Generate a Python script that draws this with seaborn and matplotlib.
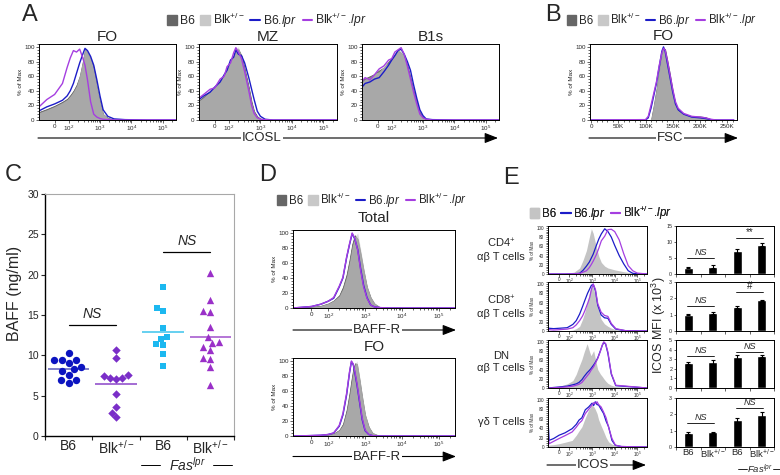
import numpy as np
import pandas as pd
import matplotlib
matplotlib.use('Agg')
import matplotlib.pyplot as plt
import seaborn as sns
from matplotlib.patches import Patch
from matplotlib.lines import Line2D
from matplotlib.ticker import AutoMinorLocator, FixedLocator

sns.set_style('ticks')
plt.rcParams['font.family'] = ['Liberation Sans', 'DejaVu Sans']
plt.rcParams['mathtext.fontset'] = 'custom'
plt.rcParams['mathtext.rm'] = 'Liberation Sans'
plt.rcParams['mathtext.it'] = 'Liberation Sans:italic'
plt.rcParams['mathtext.bf'] = 'Liberation Sans:bold'

# ---------------- data ----------------
# histogram x positions are in decades (biexponential display, "0" at 1.55)
u_a_fo = [1.05, 1.3, 1.55, 1.8, 1.95, 2.05, 2.15, 2.25, 2.35, 2.45, 2.52, 2.6, 2.7, 2.8, 2.9, 3.0, 3.1, 3.25, 3.45, 3.8, 4.5, 5.43]
fo_b6 = [11, 15, 19.5, 25, 29, 34, 40, 48, 60, 80, 97, 92, 84, 72, 45, 25, 8, 3, 0.5, 0, 0, 0]
fo_blk = [10, 14, 18.5, 24, 28, 33, 39, 47, 62, 82, 100, 94, 85, 70, 47, 26, 9, 3, 0.5, 0, 0, 0]
fo_blue = [12.5, 18, 22, 27, 33, 40, 50, 64, 78, 90, 98, 95, 87, 75, 55, 33, 14, 5, 1.5, 0.5, 0, 0]
fo_purple = [18, 28, 35, 50, 72, 85, 95, 93, 97, 85, 75, 55, 25, 8, 4, 2, 1, 0.5, 0, 0, 0, 0]

u_a_mz = [1.05, 1.2, 1.4, 1.55, 1.72, 1.85, 1.94, 2.05, 2.15, 2.22, 2.3, 2.4, 2.5, 2.63, 2.72, 2.8, 2.9, 3.0, 3.15, 3.4, 4.0, 5.43]
mz_b6 = [27, 32, 40, 46, 54, 62, 70, 80, 88, 95, 97, 88, 70, 45, 25, 12, 5, 2, 0.5, 0, 0, 0]
mz_blk = [26, 31, 39, 47, 55, 63, 72, 82, 90, 98, 100, 86, 68, 43, 23, 11, 4, 1.5, 0.5, 0, 0, 0]
mz_blue = [28, 33, 38, 45, 52, 62, 68, 82, 86, 96, 90, 88, 78, 58, 42, 28, 12, 5, 1, 0, 0, 0]
mz_purple = [30, 35, 42, 44, 56, 60, 73, 78, 92, 99, 93, 84, 66, 40, 20, 9, 3, 1, 0.5, 0, 0, 0]

u_a_b1 = [1.05, 1.15, 1.3, 1.45, 1.6, 1.75, 1.9, 2.0, 2.1, 2.2, 2.3, 2.4, 2.5, 2.6, 2.7, 2.8, 2.9, 3.0, 3.1, 3.3, 4.0, 5.43]
b1_b6 = [55, 57, 60, 63, 68, 72, 80, 85, 90, 95, 92, 88, 75, 58, 40, 25, 10, 4, 1, 0, 0, 0]
b1_blk = [52, 56, 58, 64, 66, 74, 78, 86, 92, 97, 100, 86, 72, 55, 38, 22, 9, 3, 1, 0, 0, 0]
b1_blue = [45, 50, 52, 56, 58, 66, 75, 82, 88, 95, 97, 90, 80, 68, 48, 30, 14, 6, 1.5, 0.5, 0, 0]
b1_purple = [53, 58, 55, 62, 70, 74, 82, 84, 93, 96, 99, 90, 74, 56, 38, 22, 8, 3, 1, 0, 0, 0]

fsc_k = [0, 100, 105, 110, 115, 120, 125, 130, 133, 136, 140, 145, 150, 155, 160, 170, 185, 200, 210, 220, 230, 262]
fsc_b6 = [0, 0, 0, 0, 20, 42, 68, 90, 98, 97, 82, 62, 40, 22, 14, 8, 5, 5, 4, 1, 0, 0]
fsc_blk = [0, 0, 0, 2, 22, 44, 70, 92, 100, 95, 80, 60, 38, 21, 13, 8, 5, 4, 3, 1, 0, 0]
fsc_blue = [0, 0, 3, 16, 33, 50, 72, 94, 100, 94, 78, 58, 38, 22, 14, 8, 4, 3, 2, 0.5, 0, 0]
fsc_purple = [0, 0.5, 5, 20, 36, 52, 74, 92, 98, 96, 82, 62, 42, 25, 16, 9, 5, 4, 3, 1, 0, 0]

u_d_tot = [1.05, 1.3, 1.55, 1.8, 2.0, 2.15, 2.3, 2.4, 2.5, 2.58, 2.65, 2.72, 2.8, 2.88, 2.96, 3.05, 3.15, 3.25, 3.4, 3.7, 4.5, 5.43]
tot_b6 = [0, 0.5, 1.5, 3, 6, 10, 17, 28, 45, 65, 85, 97, 92, 72, 50, 28, 14, 6, 1, 0, 0, 0]
tot_blk = [0, 0.5, 1.5, 3, 6, 10, 16, 26, 42, 62, 82, 95, 100, 78, 54, 30, 15, 7, 1.5, 0, 0, 0]
tot_blue = [0, 1, 2, 5, 9, 13, 28, 40, 67, 85, 99, 92, 78, 52, 30, 14, 4, 1.5, 0.5, 0, 0, 0]
tot_purple = [0, 1, 2, 5, 9, 14, 29, 41, 68, 86, 100, 93, 77, 50, 28, 13, 4, 1.5, 0.5, 0, 0, 0]

u_d_fo = [1.05, 1.5, 1.8, 2.0, 2.15, 2.3, 2.4, 2.5, 2.58, 2.63, 2.68, 2.73, 2.78, 2.85, 2.92, 3.0, 3.1, 3.2, 3.35, 3.7, 4.5, 5.43]
dfo_b6 = [0, 0, 0.5, 1.5, 3.5, 8, 16, 35, 58, 75, 90, 97, 96, 75, 52, 28, 12, 4, 1, 0, 0, 0]
dfo_blk = [0, 0, 0.5, 1.5, 3.5, 8, 15, 33, 55, 72, 88, 96, 100, 80, 56, 31, 13, 5, 1, 0, 0, 0]
dfo_blue = [0, 0.5, 1, 2, 4, 13, 28, 55, 85, 99, 95, 82, 68, 45, 22, 7, 2, 0.5, 0, 0, 0, 0]
dfo_purple = [0, 0.5, 1, 2, 4, 14, 30, 57, 86, 100, 96, 84, 70, 47, 24, 8, 2, 0.5, 0, 0, 0, 0]

u_e1 = [1.05, 1.8, 2.2, 2.45, 2.6, 2.75, 2.88, 2.97, 3.05, 3.19, 3.3, 3.41, 3.56, 3.7, 3.85, 4.0, 4.2, 4.4, 4.6, 4.8, 5.0, 5.43]
e1_b6 = [0, 1, 4, 13, 30, 51, 80, 98, 88, 58, 38, 25, 17, 13, 11, 9, 7, 5, 3.5, 2, 1, 0]
e1_blue = [0, 0, 0.5, 1.5, 8, 17, 26, 35, 43, 62, 76, 87, 98, 92, 80, 62, 40, 22, 7, 1.5, 0.5, 0]
e1_purple = [0, 0, 0.5, 1, 4, 7, 14, 21, 28, 42, 56, 72, 82, 96, 97, 92, 74, 44, 18, 7, 2, 0]

u_e2 = [1.05, 1.3, 1.6, 1.9, 2.15, 2.3, 2.45, 2.58, 2.68, 2.8, 2.9, 2.97, 3.05, 3.15, 3.25, 3.4, 3.55, 3.7, 3.85, 4.05, 4.5, 5.43]
e2_b6 = [0, 0, 0, 0.5, 2, 5, 10, 25, 40, 62, 85, 95, 92, 75, 50, 25, 15, 10, 6, 3, 1, 0]
e2_blue = [6, 5, 6, 7, 14, 22, 36, 52, 65, 80, 90, 97, 99, 85, 55, 34, 28, 27, 14, 4, 0.5, 0]
e2_purple = [3, 2, 3, 4, 7, 13, 22, 32, 43, 58, 72, 88, 100, 88, 58, 40, 33, 31, 16, 5, 0.5, 0]

u_e3 = [1.05, 1.5, 1.9, 2.15, 2.3, 2.42, 2.55, 2.65, 2.78, 2.88, 2.95, 3.07, 3.15, 3.25, 3.37, 3.45, 3.52, 3.6, 3.7, 3.85, 4.05, 5.43]
e3_b6 = [0, 3, 9, 16, 30, 46, 62, 78, 96, 80, 70, 81, 62, 40, 30, 25, 20, 15, 10, 6, 3, 0]
e3_blue = [0, 2, 4, 7, 9, 12, 18, 25, 33, 38, 42, 50, 56, 65, 81, 92, 99, 95, 75, 30, 5, 0]
e3_purple = [0, 1, 2.5, 4, 6, 8, 12, 18, 26, 32, 38, 46, 54, 64, 80, 93, 100, 96, 78, 32, 6, 0]

u_e4 = [1.05, 1.1, 1.3, 1.54, 1.8, 2.12, 2.3, 2.42, 2.55, 2.7, 2.85, 3.0, 3.07, 3.14, 3.22, 3.29, 3.4, 3.51, 3.62, 3.73, 3.88, 4.03, 4.3, 5.43]
e4_b6 = [3, 4, 5, 7, 10, 14, 25, 34, 43, 62, 79, 89, 86, 80, 71, 58, 45, 33, 20, 11, 6, 4, 2, 0]
e4_blue = [60, 14, 18, 25, 30, 39, 48, 57, 62, 79, 85, 93, 88, 96, 90, 89, 80, 71, 55, 43, 14, 3.5, 1, 0]
e4_purple = [30, 7, 12, 18, 24, 32, 42, 50, 56, 71, 80, 89, 94, 92, 96, 90, 85, 74, 62, 42, 18, 4, 1, 0]

# panel C: serum BAFF (ng/ml)
baff_b6 = [10.25, 9.4, 9.4, 9.4, 9.0, 8.5, 8.0, 8.3, 7.6, 6.9, 6.6, 7.0]
baff_blk = [10.7, 9.7, 7.6, 7.25, 7.1, 7.15, 7.5, 5.2, 3.6, 2.9, 2.3]
baff_b6_lpr = [18.46, 15.9, 15.5, 13.4, 12.3, 12.04, 11.4, 11.3, 10.2, 8.66]
baff_blk_lpr = [20.25, 16.8, 15.5, 15.4, 13.54, 12.33, 11.5, 11.6, 11.0, 10.6, 9.6, 9.7, 8.5, 6.3]
c_keys = ['B6', 'Blk', 'B6 lpr', 'Blk lpr']
c_ticklabels = ['B6', 'Blk$^{+/-}$', 'B6', 'Blk$^{+/-}$']
c_sig = [(0, 1, 13.8, 'NS'), (2, 3, 22.8, 'NS')]

# panel E: ICOS MFI (x 10^3)
mfi_vals = [[2.0, 2.3, 7.2, 9.2],
            [1.0, 1.1, 1.47, 1.88],
            [2.6, 2.7, 3.25, 3.3],
            [0.85, 0.9, 1.65, 1.95]]
mfi_errs = [[0.25, 0.4, 0.5, 0.5],
            [0.03, 0.05, 0.08, 0.04],
            [0.15, 0.2, 0.2, 0.1],
            [0.05, 0.04, 0.15, 0.18]]
mfi_ylim = [15, 3, 5, 3]
mfi_sig = [[(0, 1, 5.0, 'NS'), (2, 3, 11.3, '**')],
           [(0, 1, 1.55, 'NS'), (2, 3, 2.37, '#')],
           [(0, 1, 3.35, 'NS'), (2, 3, 3.8, 'NS')],
           [(0, 1, 1.45, 'NS'), (2, 3, 2.37, 'NS')]]
e_rows = ['CD4$^{+}$\nαβ T cells', 'CD8$^{+}$\nαβ T cells', 'DN\nαβ T cells', 'γδ T cells']

# ---------------- style ----------------
B6_DARK = '#7a7a7a'
BLK_LIGHT = '#c8c8c8'
E_GRAY = '#c4c4c4'
BLUE = '#1c1cc8'
PURPLE = '#a53ee0'

W, H = 780, 475
fig = plt.figure(figsize=(W / 100, H / 100), dpi=100)


def box(x0, y0, x1, y1):
    return fig.add_axes([x0 / W, 1 - y1 / H, (x1 - x0) / W, (y1 - y0) / H])


decade_pos = [1.55, 2, 3, 4, 5]
decade_lbl = ['0', '10$^2$', '10$^3$', '10$^4$', '10$^5$']
minor_pos = [d + np.log10(k) for d in range(2, 6) for k in range(2, 10) if d + np.log10(k) < 5.43]


def style_flow(ax, fs=4.5, log=True):
    ax.set_ylim(0, 104)
    ax.set_yticks([0, 20, 40, 60, 80, 100])
    ax.yaxis.set_minor_locator(AutoMinorLocator(5))
    if log:
        ax.set_xlim(1.05, 5.43)
        ax.set_xticks(decade_pos)
        ax.set_xticklabels(decade_lbl)
        ax.xaxis.set_minor_locator(FixedLocator(minor_pos))
    for s in ax.spines.values():
        s.set_linewidth(0.7)
        s.set_color('black')
    ax.tick_params(which='both', direction='out', width=0.5, labelsize=fs, pad=1)
    ax.tick_params(axis='x', pad=0.5)
    ax.tick_params(which='major', length=2.2)
    ax.tick_params(which='minor', length=1.2)
    ax.set_ylabel('% of Max', fontsize=fs, labelpad=1)
    ax.set_xlabel('')


def draw_hist(ax, u, b6, blk, blue, purple):
    ax.fill_between(u, b6, color=B6_DARK, edgecolor='#555555', lw=0.5)
    if blk is not None:
        ax.fill_between(u, blk, color=BLK_LIGHT, alpha=0.6, lw=0)
    sns.lineplot(x=u, y=blue, ax=ax, color=BLUE, lw=1.0, legend=False)
    sns.lineplot(x=u, y=purple, ax=ax, color=PURPLE, lw=1.0, legend=False)


# Panel A
for (x0, x1), u, b6, blk, bl, pu in [((39, 176), u_a_fo, fo_b6, fo_blk, fo_blue, fo_purple),
                                      ((199, 337), u_a_mz, mz_b6, mz_blk, mz_blue, mz_purple),
                                      ((362, 499), u_a_b1, b1_b6, b1_blk, b1_blue, b1_purple)]:
    ax = box(x0, 44, x1, 120)
    draw_hist(ax, u, b6, blk, bl, pu)
    style_flow(ax)

# Panel B
ax = box(590, 44, 737, 120)
draw_hist(ax, fsc_k, fsc_b6, fsc_blk, fsc_blue, fsc_purple)
style_flow(ax, log=False)
ax.set_xlim(-2, 268)
ax.set_xticks([0, 50, 100, 150, 200, 250])
ax.set_xticklabels(['0', '50K', '100K', '150K', '200K', '250K'])
ax.xaxis.set_minor_locator(AutoMinorLocator(5))

# Panel D
for (y0, y1), u, b6, blk, bl, pu in [((230, 308), u_d_tot, tot_b6, tot_blk, tot_blue, tot_purple),
                                      ((358, 436), u_d_fo, dfo_b6, dfo_blk, dfo_blue, dfo_purple)]:
    ax = box(293, y0, 455, y1)
    draw_hist(ax, u, b6, blk, bl, pu)
    style_flow(ax)

# Panel C
c_df = pd.DataFrame({
    'grp': (['B6'] * len(baff_b6) + ['Blk'] * len(baff_blk)
            + ['B6 lpr'] * len(baff_b6_lpr) + ['Blk lpr'] * len(baff_blk_lpr)),
    'baff': baff_b6 + baff_blk + baff_b6_lpr + baff_blk_lpr,
})
c_markers = ['o', 'D', 's', '^']
c_colors = ['#0c14c0', '#7a2ec8', '#1cb8f0', '#9a30c8']
c_sizes = [5.3, 4.3, 4.6, 5.3]
c_mean_colors = ['#5c5cbc', '#8a44c8', '#3cc4ec', '#a050cc']
axc = box(45, 194, 234, 436)
for i, key in enumerate(c_keys):
    sub = c_df[c_df['grp'] == key]
    sns.swarmplot(data=sub, x='grp', y='baff', order=c_keys, marker=c_markers[i],
                  color=c_colors[i], size=c_sizes[i], ax=axc, linewidth=0)
    axc.hlines(sub['baff'].mean(), i - 0.44, i + 0.44, color=c_mean_colors[i], lw=1.1, zorder=1)
for a, b, y, t in c_sig:
    axc.plot([a, b], [y, y], color='black', lw=0.9)
    axc.text((a + b) / 2, y + 0.5, t, ha='center', va='bottom', fontsize=10, style='italic')
axc.set_xlim(-0.5, 3.5)
axc.set_ylim(0, 30)
axc.set_yticks(range(0, 31, 5))
axc.set_xticks(range(4))
axc.set_xticklabels(c_ticklabels, fontsize=10)
axc.set_xticks([-0.5, 0.5, 1.5, 2.5, 3.5], minor=True)
axc.tick_params(axis='x', which='major', length=0, pad=2)
axc.tick_params(axis='x', which='minor', length=3, width=0.8, direction='out')
axc.tick_params(axis='y', labelsize=7.5, length=3, width=0.8, direction='out', pad=1.5)
axc.set_xlabel('')
axc.set_ylabel('')
for side in ['left', 'bottom']:
    axc.spines[side].set_color('black')
    axc.spines[side].set_linewidth(1.0)
for side in ['top', 'right']:
    axc.spines[side].set_color('#a8a8a8')
    axc.spines[side].set_linewidth(0.8)

# Panel E histograms and bars
e_bands = [(226, 274), (282, 331), (340, 388), (398, 447)]
e_hists = [(u_e1, e1_b6, e1_blue, e1_purple), (u_e2, e2_b6, e2_blue, e2_purple),
           (u_e3, e3_b6, e3_blue, e3_purple), (u_e4, e4_b6, e4_blue, e4_purple)]
bar_keys = ['B6', 'Blk', 'B6 lpr', 'Blk lpr']
for r, (y0, y1) in enumerate(e_bands):
    u, g, bl, pu = e_hists[r]
    ax = box(548, y0, 647, y1)
    ax.fill_between(u, g, color=E_GRAY, lw=0)
    sns.lineplot(x=u, y=bl, ax=ax, color=BLUE, lw=0.9, legend=False)
    sns.lineplot(x=u, y=pu, ax=ax, color=PURPLE, lw=0.9, legend=False)
    style_flow(ax, fs=3.3)
    ax.tick_params(which='major', length=1.8)

    axb = box(676, y0, 774, y1)
    sns.barplot(x=bar_keys, y=mfi_vals[r], order=bar_keys, color='black', width=0.38,
                saturation=1, errorbar=None, ax=axb)
    axb.errorbar(range(4), mfi_vals[r], yerr=mfi_errs[r], fmt='none', ecolor='black',
                 elinewidth=0.8, capsize=1.4, capthick=0.8)
    for a, b, y, t in mfi_sig[r]:
        axb.plot([a - 0.05, b + 0.05], [y, y], color='black', lw=0.6)
        axb.text((a + b) / 2, y + mfi_ylim[r] * 0.02, t, ha='center', va='bottom',
                 fontsize=6.5 if t == 'NS' else 7, style='italic' if t == 'NS' else 'normal')
    axb.set_xlim(-0.5, 3.5)
    axb.set_ylim(0, mfi_ylim[r])
    axb.set_yticks(range(0, mfi_ylim[r] + 1, 5 if mfi_ylim[r] == 15 else 1))
    axb.tick_params(axis='y', labelsize=3.8, length=1.8, width=0.5, pad=1)
    axb.set_xlabel('')
    axb.set_ylabel('')
    for s in axb.spines.values():
        s.set_linewidth(0.7)
        s.set_color('black')
    if r == 3:
        axb.set_xticks(range(4))
        axb.set_xticklabels(c_ticklabels, fontsize=6.8)
        axb.tick_params(axis='x', which='major', length=0, pad=0.5)
    else:
        axb.set_xticks([])
    axb.set_xticks([-0.5, 0.5, 1.5, 2.5, 3.5], minor=True)
    axb.tick_params(axis='x', which='minor', length=1.8, width=0.5)

# ---------------- figure-level text ----------------
ov = fig.add_axes([0, 0, 1, 1])
ov.set_xlim(0, W)
ov.set_ylim(H, 0)
ov.axis('off')

for t, x, y in [('A', 30, 15), ('B', 553, 15), ('C', 13, 175), ('D', 268, 175), ('E', 511, 178)]:
    ov.text(x, y, t, fontsize=17, ha='center', va='center')

for t, x, y in [('FO', 107.5, 37), ('MZ', 268, 37), ('B1s', 430.5, 37), ('FO', 663, 36),
                ('Total', 374, 218), ('FO', 374, 347)]:
    ov.text(x, y, t, fontsize=11, ha='center', va='center')


def axis_arrow(x0, x1, y, txt, tx, fs=9.5):
    ov.annotate('', xy=(x1, y), xytext=(x0, y),
                arrowprops=dict(arrowstyle='-|>,head_length=0.9,head_width=0.35', color='black',
                                lw=0.8, shrinkA=0, shrinkB=0, mutation_scale=9))
    ov.text(tx, y, txt, fontsize=fs, ha='center', va='center', zorder=5,
            bbox=dict(facecolor='white', edgecolor='none', pad=0.5))


axis_arrow(38, 498, 138, 'ICOSL', 262)
axis_arrow(589, 738, 138, 'FSC', 670)
axis_arrow(293, 456, 330, 'BAFF-R', 377)
axis_arrow(293, 456, 456.5, 'BAFF-R', 377)
axis_arrow(547, 646, 465, 'ICOS', 593)

ov.text(15, 293, 'BAFF (ng/ml)', fontsize=11.5, rotation=90, ha='center', va='center')
ov.text(659, 325, 'ICOS MFI (x 10$^3$)', fontsize=9, rotation=90, ha='center', va='center')

ov.text(187, 465, '$\\mathit{Fas}^{\\mathit{lpr}}$', fontsize=10, ha='center', va='center')
ov.plot([141, 160], [465, 465], color='black', lw=0.7)
ov.plot([213, 232], [465, 465], color='black', lw=0.7)
ov.text(760, 469, '$\\mathit{Fas}^{\\mathit{lpr}}$', fontsize=6.8, ha='center', va='center')
ov.plot([738, 747], [469, 469], color='black', lw=0.6)
ov.plot([773, 782], [469, 469], color='black', lw=0.6)

for t, y in zip(e_rows, [249, 306, 362, 422]):
    ov.text(501, y, t, fontsize=8, ha='center', va='center', linespacing=1.25, multialignment='center')

lbl4 = ['B6', 'Blk$^{+/-}$', 'B6.$\\mathit{lpr}$', 'Blk$^{+/-}$.$\\mathit{lpr}$']
h4 = [Patch(color='#666666'), Patch(color=BLK_LIGHT),
      Line2D([0], [0], color=BLUE, lw=1.5), Line2D([0], [0], color=PURPLE, lw=1.5)]
h3 = [Patch(color=E_GRAY), Line2D([0], [0], color=BLUE, lw=1.5), Line2D([0], [0], color=PURPLE, lw=1.5)]
lbl3 = ['B6', 'B6.$\\mathit{lpr}$', 'Blk$^{+/-}$.$\\mathit{lpr}$']


def legend_at(handles, labels, cx, cy, fs):
    leg = ov.legend(handles, labels, loc='center', bbox_to_anchor=(cx, cy),
                    bbox_transform=ov.transData, ncol=len(handles), frameon=False, fontsize=fs,
                    handlelength=0.8, handleheight=0.9, handletextpad=0.25, columnspacing=0.45,
                    borderpad=0, borderaxespad=0)
    ov.add_artist(leg)


legend_at(h4, lbl4, 267, 20, 8.7)
legend_at(h4, lbl4, 662, 20, 8.3)
legend_at(h4, lbl4, 372, 200, 8.3)
legend_at(h3, lbl3, 601, 213, 8.3)

fig.savefig('out.png', dpi=100)
